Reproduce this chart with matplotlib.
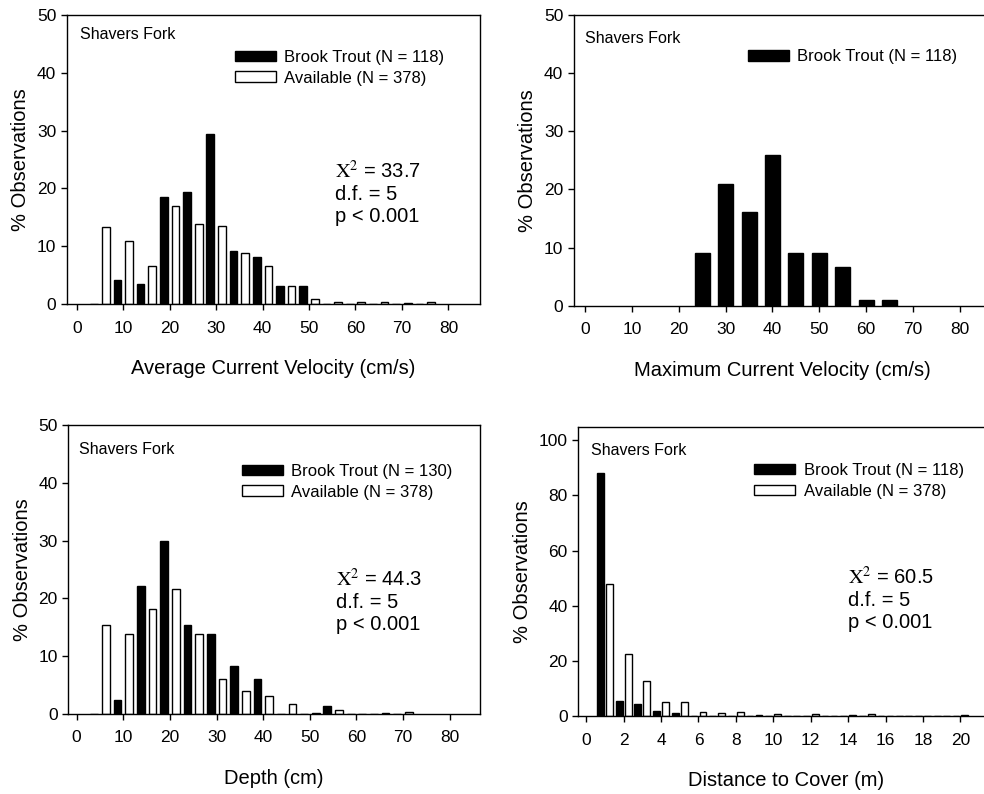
import numpy as np
import matplotlib
matplotlib.use('Agg')
from matplotlib import pyplot as plt

plt.rcParams['font.family'] = ['Liberation Sans', 'DejaVu Sans']
plt.rcParams['mathtext.fontset'] = 'stix'

# average current velocity (cm/s), 5 cm/s bins
avg_bins = [5, 10, 15, 20, 25, 30, 35, 40, 45, 50, 55, 60, 65, 70, 75]
avg_trout = [0, 4.2, 3.4, 18.5, 19.3, 29.5, 9.1, 8.1, 3.2, 3.2, 0, 0, 0, 0, 0]
avg_avail = [13.3, 10.9, 6.6, 17.0, 13.8, 13.5, 8.9, 6.6, 3.2, 0.9, 0.4, 0.4, 0.4, 0.15, 0.3]

# maximum current velocity (cm/s)
max_bins = [25, 30, 35, 40, 45, 50, 55, 60, 65]
max_trout = [9.0, 21.0, 16.1, 26.0, 9.1, 9.1, 6.7, 0.9, 0.9]

# depth (cm)
depth_bins = [5, 10, 15, 20, 25, 30, 35, 40, 45, 50, 55, 60, 65, 70]
depth_trout = [0, 2.3, 22.2, 29.9, 15.3, 13.8, 8.2, 6.0, 0, 0, 1.4, 0, 0, 0]
depth_avail = [15.3, 13.8, 18.2, 21.6, 13.9, 6.0, 3.9, 3.1, 1.7, 0.2, 0.65, 0, 0.2, 0.35]

# distance to cover (m)
cover_bins = [1, 2, 3, 4, 5, 6, 7, 8, 9, 10, 11, 12, 13, 14, 15, 16, 17, 18, 19, 20]
cover_trout = [88.0, 5.3, 4.5, 1.8, 1.1, 0, 0, 0, 0, 0, 0, 0, 0, 0, 0, 0, 0, 0, 0, 0]
cover_avail = [48.0, 22.6, 12.7, 5.1, 5.1, 1.6, 1.0, 1.6, 0.2, 0.8, 0, 0.6, 0, 0.3, 0.6, 0, 0, 0, 0, 0.4]

vel_ticks = [0, 10, 20, 30, 40, 50, 60, 70, 80]
cover_ticks = [0, 2, 4, 6, 8, 10, 12, 14, 16, 18, 20]

TICK_FS = 12.5
LABEL_FS = 14.5
LEG_FS = 12
SITE_FS = 11.5
STAT_FS = 14.5


def style_axes(ax, xticks, yticks, xlabel):
    ax.set_xticks(xticks)
    ax.set_yticks(yticks)
    ax.tick_params(direction='out', length=4, width=1, labelsize=TICK_FS, colors='black')
    ax.tick_params(axis='x', pad=8)
    for sp in ax.spines.values():
        sp.set_linewidth(1)
        sp.set_color('black')
    ax.set_xlabel(xlabel, fontsize=LABEL_FS, labelpad=17)
    ax.set_ylabel('% Observations', fontsize=LABEL_FS, labelpad=5)


def add_legend(ax, handles, labels, x, y):
    ax.legend(handles, labels, loc='upper left', bbox_to_anchor=(x, y), frameon=False,
              fontsize=LEG_FS, handlelength=2.45, handleheight=0.6, handletextpad=0.5,
              labelspacing=0.35, borderpad=0, borderaxespad=0)


def add_stats(ax, chi, x, y):
    ax.text(x, y, r'$\mathrm{X}^{2}$' + ' = %s\nd.f. = 5\np < 0.001' % chi, transform=ax.transAxes,
            fontsize=STAT_FS, va='center', ha='left', linespacing=1.2)


fig = plt.figure(figsize=(9.84, 7.94), dpi=100)

# panel 1
ax1 = fig.add_axes([0.0678, 0.6171, 0.42, 0.364])
b1 = ax1.bar(np.array(avg_bins) - 1.25, avg_trout, width=1.65, color='black', edgecolor='black', linewidth=1)
b2 = ax1.bar(np.array(avg_bins) + 1.25, avg_avail, width=1.65, color='white', edgecolor='black', linewidth=1)
ax1.set_xlim(-2.15, 86.8)
ax1.set_ylim(0, 50)
style_axes(ax1, vel_ticks, [0, 10, 20, 30, 40, 50], 'Average Current Velocity (cm/s)')
ax1.text(0.032, 0.933, 'Shavers Fork', transform=ax1.transAxes, fontsize=SITE_FS, va='center')
add_legend(ax1, [b1, b2], ['Brook Trout (N = 118)', 'Available (N = 378)'], 0.407, 0.88)
add_stats(ax1, '33.7', 0.649, 0.383)

# panel 2
ax2 = fig.add_axes([0.583, 0.615, 0.4246, 0.366])
b3 = ax2.bar(max_bins, max_trout, width=3.2, color='black', edgecolor='black', linewidth=1)
ax2.set_xlim(-2.48, 86.8)
ax2.set_ylim(0, 50)
style_axes(ax2, vel_ticks, [0, 10, 20, 30, 40, 50], 'Maximum Current Velocity (cm/s)')
ax2.text(0.026, 0.92, 'Shavers Fork', transform=ax2.transAxes, fontsize=SITE_FS, va='center')
add_legend(ax2, [b3], ['Brook Trout (N = 118)'], 0.4165, 0.883)

# panel 3
ax3 = fig.add_axes([0.0694, 0.1011, 0.418, 0.3632])
b4 = ax3.bar(np.array(depth_bins) - 1.25, depth_trout, width=1.65, color='black', edgecolor='black', linewidth=1)
b5 = ax3.bar(np.array(depth_bins) + 1.25, depth_avail, width=1.65, color='white', edgecolor='black', linewidth=1)
ax3.set_xlim(-1.8, 86.4)
ax3.set_ylim(0, 50)
style_axes(ax3, vel_ticks, [0, 10, 20, 30, 40, 50], 'Depth (cm)')
ax3.text(0.026, 0.917, 'Shavers Fork', transform=ax3.transAxes, fontsize=SITE_FS, va='center')
add_legend(ax3, [b4, b5], ['Brook Trout (N = 130)', 'Available (N = 378)'], 0.422, 0.867)
add_stats(ax3, '44.3', 0.652, 0.391)

# panel 4
ax4 = fig.add_axes([0.5874, 0.0982, 0.4228, 0.364])
b6 = ax4.bar(np.array(cover_bins) - 0.24, cover_trout, width=0.36, color='black', edgecolor='black', linewidth=1)
b7 = ax4.bar(np.array(cover_bins) + 0.24, cover_avail, width=0.36, color='white', edgecolor='black', linewidth=1)
ax4.set_xlim(-0.44, 21.8)
ax4.set_ylim(0, 104.8)
style_axes(ax4, cover_ticks, [0, 20, 40, 60, 80, 100], 'Distance to Cover (m)')
ax4.text(0.032, 0.919, 'Shavers Fork', transform=ax4.transAxes, fontsize=SITE_FS, va='center')
add_legend(ax4, [b6, b7], ['Brook Trout (N = 118)', 'Available (N = 378)'], 0.424, 0.876)
add_stats(ax4, '60.5', 0.649, 0.406)

fig.savefig('out.png', dpi=100)
